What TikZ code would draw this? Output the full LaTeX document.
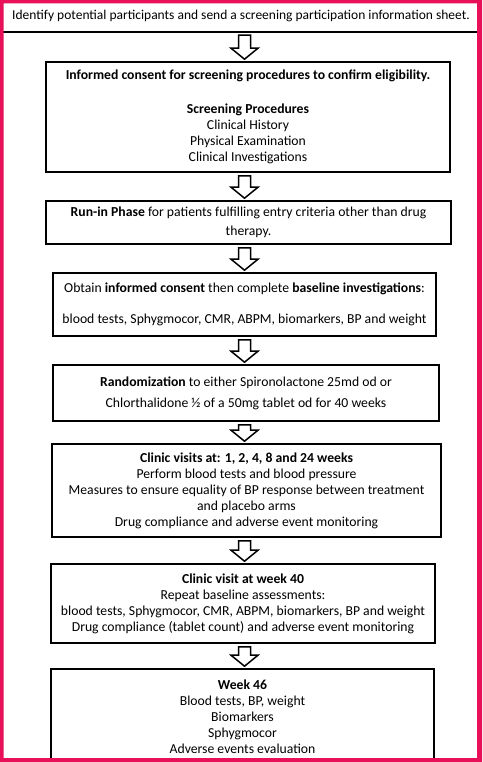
\documentclass[tikz,border=0pt]{standalone}
\usepackage{fontspec}
\setmainfont{Carlito}
\usetikzlibrary{calc}
\definecolor{framepink}{RGB}{233,16,90}
\newcommand{\boxfont}{\fontsize{13.7}{16}\selectfont}
\newcommand{\topfont}{\fontsize{13.5}{16}\selectfont}
\newcommand{\blockarrow}[2]{%
  \draw[blockarr] let \p1=(#1.south), \p2=(#2.north) in
   (238.5pt,\y1-3pt) -- (250.5pt,\y1-3pt) -- (250.5pt,\y2+13pt) -- (258pt,\y2+13pt)
   -- (244.5pt,\y2+2pt) -- (231pt,\y2+13pt) -- (238.5pt,\y2+13pt) -- cycle;}
\begin{document}
\begin{tikzpicture}[x=1pt,y=-1pt,
  box/.style={draw, line width=1.6pt, align=center, inner sep=0pt, font=\boxfont},
  blockarr/.style={draw, line width=1.5pt, fill=white, line join=miter}]
\useasboundingbox (0,0) rectangle (482,762);
\fill[white] (0,0) rectangle (482,762);
\node[minimum width=482pt, minimum height=32pt, inner sep=0pt, font=\topfont] (top) at (241,16)
  {Identify potential participants and send a screening participation information sheet.};
\draw[line width=1.8pt] (top.south west) -- (top.south east);
\node[box, minimum width=404pt, minimum height=110pt] (b2) at (248,117)
  {\textbf{Informed consent for screening procedures to confirm eligibility.}\\[17.6pt]
   \textbf{Screening Procedures}\\ Clinical History\\ Physical Examination\\ Clinical Investigations};
\node[box, minimum width=405pt, minimum height=43pt] (b3) at (248.5,222.5)
  {\textbf{Run-in Phase} for patients fulfilling entry criteria other than drug\\[3pt] therapy.};
\node[box, minimum width=383pt, minimum height=63pt] (b4) at (244.5,304.5)
  {Obtain \textbf{informed consent} then complete \textbf{baseline investigations}:\\[15pt]
   blood tests, Sphygmocor, CMR, ABPM, biomarkers, BP and weight};
\node[box, minimum width=386pt, minimum height=56pt] (b5) at (246,393)
  {\textbf{Randomization} to either Spironolactone 25md od or\\[5pt]
   Chlorthalidone ½ of a 50mg tablet od for 40 weeks};
\node[box, minimum width=389pt, minimum height=93pt] (b6) at (246.5,490.5)
  {\textbf{Clinic visits at: 1, 2, 4, 8 and 24 weeks}\\ Perform blood tests and blood pressure\\
   Measures to ensure equality of BP response between treatment\\ and placebo arms\\
   Drug compliance and adverse event monitoring};
\node[box, minimum width=384pt, minimum height=79pt] (b7) at (243,603.5)
  {\textbf{Clinic visit at week 40}\\ Repeat baseline assessments:\\
   blood tests, Sphygmocor, CMR, ABPM, biomarkers, BP and weight\\
   Drug compliance (tablet count) and adverse event monitoring};
\node[box, minimum width=383pt, minimum height=96pt] (b8) at (242.5,717)
  {\textbf{Week 46}\\ Blood tests, BP, weight\\ Biomarkers\\ Sphygmocor\\ Adverse events evaluation};
\blockarrow{top}{b2}
\blockarrow{b2}{b3}
\blockarrow{b3}{b4}
\blockarrow{b4}{b5}
\blockarrow{b5}{b6}
\blockarrow{b6}{b7}
\blockarrow{b7}{b8}
\fill[framepink, even odd rule] (0,0) rectangle (482,762) (3.5,3.5) rectangle (477,758);
\end{tikzpicture}
\end{document}
